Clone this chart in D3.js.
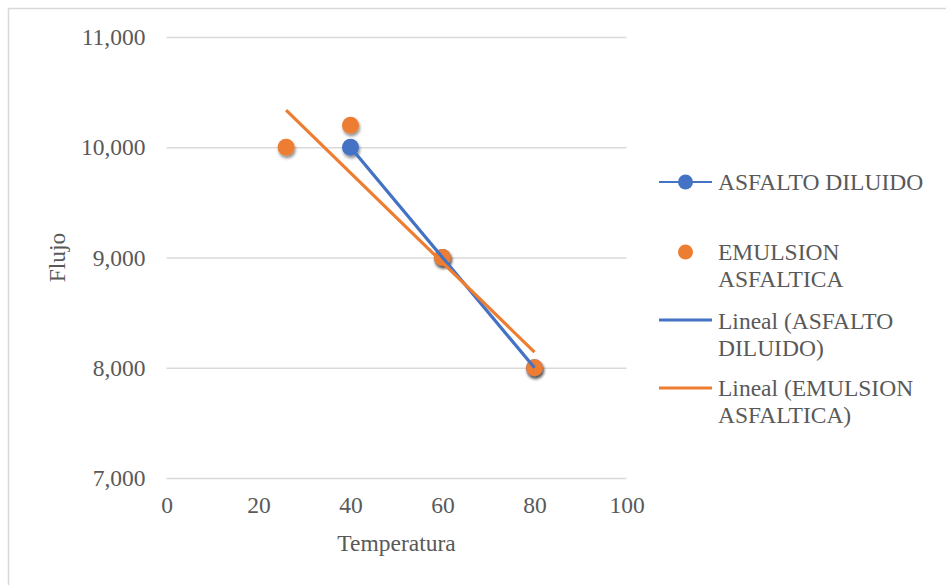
<!DOCTYPE html>
<html>
<head>
<meta charset="utf-8">
<script src="https://cdn.jsdelivr.net/npm/d3@7"></script>
<style>
  html, body { margin: 0; padding: 0; background: #fff; }
  svg { display: block; }
  svg text { font-family: "Liberation Serif", "Times New Roman", serif !important; fill: #595959; }
</style>
</head>
<body>
<svg id="chart" width="946" height="585"></svg>
<script>
// Temperature (x) vs flow (y) for two asphalt types
const asfaltoTemp = [40, 60, 80];
const asfaltoFlujo = [10000, 9000, 8000];
const emulsionTemp = [26, 40, 60, 80];
const emulsionFlujo = [10000, 10200, 9000, 8000];

const xTicks = [0, 20, 40, 60, 80, 100];
const yTicks = [7000, 8000, 9000, 10000, 11000];

const seriesNames = ["ASFALTO DILUIDO", "EMULSION ASFALTICA"];
const trendNames = ["Lineal (ASFALTO DILUIDO)", "Lineal (EMULSION ASFALTICA)"];

const BLUE = "#4472C4", ORANGE = "#ED7D31";
const FONT = 23.5;
const SERIF = "'Liberation Serif', 'Times New Roman', serif";

const svg = d3.select("#chart").attr("font-family", SERIF);

// marker shadow
const defs = svg.append("defs");
const f = defs.append("filter").attr("id", "shadow")
  .attr("x", "-60%").attr("y", "-60%").attr("width", "220%").attr("height", "220%");
f.append("feDropShadow").attr("dx", 1).attr("dy", 2.5).attr("stdDeviation", 1.8)
  .attr("flood-color", "#000").attr("flood-opacity", 0.45);

// chart area outline
svg.append("rect").attr("x", 8.5).attr("y", 8.5).attr("width", 1000).attr("height", 700)
  .attr("fill", "#fff").attr("stroke", "#d9d9d9").attr("stroke-width", 1.5);

const x = d3.scaleLinear().domain([0, 100]).range([166.5, 626.5]);
const y = d3.scaleLinear().domain([7000, 11000]).range([478, 37]);

// gridlines
svg.append("g").selectAll("line").data(yTicks).join("line")
  .attr("x1", x(0)).attr("x2", x(100))
  .attr("y1", d => y(d) + 0.5).attr("y2", d => y(d) + 0.5)
  .attr("stroke", "#d9d9d9").attr("stroke-width", 1.3);

// y axis labels
const yAxis = d3.axisLeft(y).tickValues(yTicks).tickSize(0).tickPadding(21)
  .tickFormat(d3.format(","));
const gy = svg.append("g").attr("transform", `translate(${x(0)},0)`).call(yAxis)
  .attr("font-family", SERIF).attr("font-size", FONT);
gy.select(".domain").remove();
gy.selectAll("text").attr("fill", "#595959");

// x axis labels
const xAxis = d3.axisBottom(x).tickValues(xTicks).tickSize(0).tickPadding(18);
const gx = svg.append("g").attr("transform", `translate(0,${y(7000)})`).call(xAxis)
  .attr("font-family", SERIF).attr("font-size", FONT);
gx.select(".domain").remove();
gx.selectAll("text").attr("fill", "#595959");

// axis titles
svg.append("text").attr("x", (x(0) + x(100)) / 2).attr("y", 551)
  .attr("text-anchor", "middle").attr("font-size", FONT).text("Temperatura");
svg.append("text").attr("transform", `translate(65,${(y(7000) + y(11000)) / 2}) rotate(-90)`)
  .attr("text-anchor", "middle").attr("font-size", FONT).text("Flujo");

// least-squares linear trend
function linearFit(xs, ys) {
  const n = xs.length;
  const mx = d3.mean(xs), my = d3.mean(ys);
  let sxy = 0, sxx = 0;
  for (let i = 0; i < n; i++) { sxy += (xs[i] - mx) * (ys[i] - my); sxx += (xs[i] - mx) ** 2; }
  const b = sxy / sxx, a = my - b * mx;
  const x0 = d3.min(xs), x1 = d3.max(xs);
  return [[x0, a + b * x0], [x1, a + b * x1]];
}

const line = d3.line().x(d => x(d[0])).y(d => y(d[1]));
const asfaltoPts = asfaltoTemp.map((t, i) => [t, asfaltoFlujo[i]]);
const emulsionPts = emulsionTemp.map((t, i) => [t, emulsionFlujo[i]]);

// ASFALTO DILUIDO series line
svg.append("path").datum(asfaltoPts).attr("d", line)
  .attr("fill", "none").attr("stroke", BLUE).attr("stroke-width", 2.2);

// markers
const R = 8.5;
svg.append("g").attr("filter", "url(#shadow)").selectAll("circle").data(asfaltoPts).join("circle")
  .attr("cx", d => x(d[0])).attr("cy", d => y(d[1])).attr("r", R).attr("fill", BLUE);
svg.append("g").attr("filter", "url(#shadow)").selectAll("circle").data(emulsionPts).join("circle")
  .attr("cx", d => x(d[0])).attr("cy", d => y(d[1])).attr("r", R).attr("fill", ORANGE);

// trendlines
svg.append("path").datum(linearFit(asfaltoTemp, asfaltoFlujo)).attr("d", line)
  .attr("fill", "none").attr("stroke", BLUE).attr("stroke-width", 3.2);
svg.append("path").datum(linearFit(emulsionTemp, emulsionFlujo)).attr("d", line)
  .attr("fill", "none").attr("stroke", ORANGE).attr("stroke-width", 3.2);

// legend
const lg = svg.append("g");
const lx0 = 659, lx1 = 712, tx = 718;
function legendText(lines, cy) {
  const lh = 27;
  const top = cy - (lines.length - 1) * lh / 2;
  const t = lg.append("text").attr("x", tx).attr("font-size", FONT);
  lines.forEach((s, i) => t.append("tspan").attr("x", tx).attr("y", top + i * lh + 8).text(s));
}
// series 1: line with marker
lg.append("line").attr("x1", lx0).attr("x2", lx1).attr("y1", 182).attr("y2", 182)
  .attr("stroke", BLUE).attr("stroke-width", 2);
lg.append("circle").attr("cx", (lx0 + lx1) / 2).attr("cy", 182).attr("r", 7.5).attr("fill", BLUE);
legendText([seriesNames[0]], 182);
// series 2: marker only
lg.append("circle").attr("cx", (lx0 + lx1) / 2).attr("cy", 252).attr("r", 7.5).attr("fill", ORANGE);
legendText(["EMULSION", "ASFALTICA"], 265);
// trend 1
lg.append("line").attr("x1", lx0).attr("x2", lx1).attr("y1", 320).attr("y2", 320)
  .attr("stroke", BLUE).attr("stroke-width", 3.2);
legendText(["Lineal (ASFALTO", "DILUIDO)"], 334);
// trend 2
lg.append("line").attr("x1", lx0).attr("x2", lx1).attr("y1", 388).attr("y2", 388)
  .attr("stroke", ORANGE).attr("stroke-width", 3.2);
legendText(["Lineal (EMULSION", "ASFALTICA)"], 401.5);
</script>
</body>
</html>
